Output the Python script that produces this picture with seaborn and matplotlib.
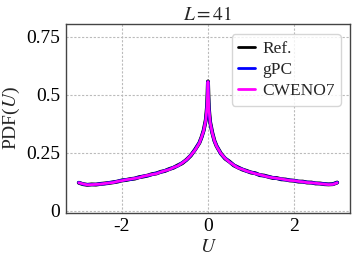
import pandas as pd
import matplotlib
matplotlib.use('Agg')
import matplotlib.pyplot as plt
import seaborn as sns

u = [-3.0, -2.9, -2.8, -2.7, -2.6, -2.5, -2.4, -2.3, -2.2, -2.1, -2.0,
     -1.9, -1.8, -1.7, -1.6, -1.5, -1.4, -1.3, -1.2, -1.1, -1.0,
     -0.9, -0.8, -0.7, -0.6, -0.5, -0.4, -0.3, -0.2, -0.15, -0.1, -0.05, -0.02,
     0.0, 0.02, 0.05, 0.1, 0.15, 0.2, 0.3, 0.4, 0.5, 0.6, 0.7, 0.8, 0.9, 1.0,
     1.1, 1.2, 1.3, 1.4, 1.5, 1.6, 1.7, 1.8, 1.9, 2.0,
     2.1, 2.2, 2.3, 2.4, 2.5, 2.6, 2.7, 2.8, 2.9, 3.0]

pdf_ref = [0.120, 0.114, 0.111, 0.113, 0.112, 0.115, 0.117, 0.119, 0.122, 0.125, 0.130,
           0.132, 0.136, 0.138, 0.144, 0.147, 0.151, 0.157, 0.160, 0.167, 0.171,
           0.179, 0.185, 0.195, 0.204, 0.219, 0.237, 0.263, 0.292, 0.316, 0.346, 0.392, 0.452,
           0.557, 0.442, 0.382, 0.336, 0.301, 0.278, 0.246, 0.224, 0.211, 0.195, 0.186, 0.177, 0.171, 0.164,
           0.161, 0.153, 0.151, 0.146, 0.141, 0.140, 0.135, 0.134, 0.130, 0.129,
           0.125, 0.125, 0.121, 0.121, 0.117, 0.117, 0.114, 0.113, 0.114, 0.121]

pdf_gpc = [0.121, 0.114, 0.112, 0.112, 0.113, 0.115, 0.116, 0.120, 0.122, 0.126, 0.130,
           0.133, 0.135, 0.139, 0.143, 0.148, 0.151, 0.156, 0.161, 0.166, 0.172,
           0.178, 0.186, 0.193, 0.206, 0.218, 0.238, 0.262, 0.293, 0.315, 0.345, 0.390, 0.450,
           0.555, 0.440, 0.380, 0.335, 0.300, 0.279, 0.245, 0.225, 0.210, 0.196, 0.185, 0.178, 0.170, 0.165,
           0.160, 0.154, 0.150, 0.146, 0.142, 0.139, 0.136, 0.133, 0.131, 0.129,
           0.126, 0.124, 0.122, 0.120, 0.118, 0.116, 0.115, 0.113, 0.114, 0.121]

pdf_cweno = [0.120, 0.115, 0.111, 0.112, 0.113, 0.114, 0.117, 0.119, 0.121, 0.126, 0.129,
             0.133, 0.136, 0.139, 0.142, 0.148, 0.152, 0.156, 0.159, 0.166, 0.172,
             0.177, 0.186, 0.193, 0.205, 0.219, 0.238, 0.261, 0.291, 0.316, 0.344, 0.391, 0.451,
             0.556, 0.441, 0.381, 0.334, 0.301, 0.277, 0.246, 0.225, 0.209, 0.196, 0.184, 0.178, 0.170, 0.165,
             0.159, 0.155, 0.150, 0.145, 0.142, 0.139, 0.137, 0.133, 0.130, 0.129,
             0.126, 0.124, 0.121, 0.120, 0.118, 0.116, 0.114, 0.112, 0.113, 0.120]

sns.set_style("ticks")
plt.rcParams['font.family'] = ['Liberation Serif', 'DejaVu Serif']
plt.rcParams['mathtext.fontset'] = 'stix'
plt.rcParams['axes.unicode_minus'] = False

fig = plt.figure(figsize=(3.54, 2.6), dpi=100)
ax = fig.add_axes([0.186, 0.182, 0.803, 0.726])

sns.lineplot(x=u, y=pdf_ref, ax=ax, color='black', lw=2.8, label='Ref.')
sns.lineplot(x=u, y=pdf_gpc, ax=ax, color='blue', lw=2.3, label='gPC')
sns.lineplot(x=u, y=pdf_cweno, ax=ax, color='magenta', lw=1.9, label='CWENO7')

ax.set_xlim(-3.3, 3.3)
ax.set_ylim(-0.009, 0.805)
ax.set_xticks([-2, 0, 2])
ax.set_xticklabels(['-2', '0', '2'])
ax.set_yticks([0, 0.25, 0.5, 0.75])
ax.set_yticklabels(['0', '0.25', '0.5', '0.75'])
ax.grid(True, ls=(0, (2, 1.5)), color='#bbbbbb', lw=0.8)
ax.tick_params(direction='in', labelsize=14, length=0, pad=4, colors='black')
for s in ax.spines.values():
    s.set_color('#444444')
    s.set_linewidth(1.0)

ax.set_title('$L = 41$', fontsize=14, pad=3)
ax.set_xlabel('$U$', fontsize=14, labelpad=3)
ax.set_ylabel('PDF($U$)', fontsize=14, labelpad=3)

leg = ax.legend(loc='upper right', fontsize=12.5, handlelength=1.0, handletextpad=0.4,
                borderpad=0.35, labelspacing=0.3, fancybox=True, framealpha=0.8,
                edgecolor='#cccccc', bbox_to_anchor=(0.998, 0.99))
for line in leg.get_lines():
    line.set_linewidth(2.0)

plt.savefig('out.png', dpi=100)
